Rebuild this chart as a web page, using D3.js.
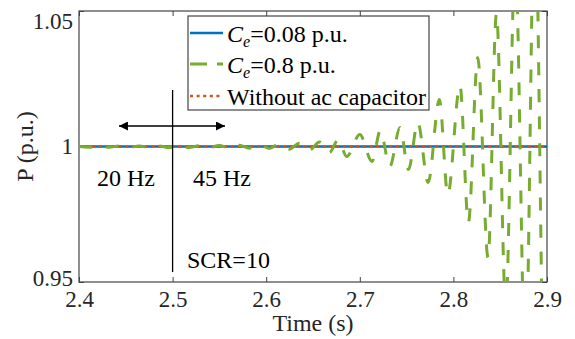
<!DOCTYPE html>
<html>
<head>
<meta charset="utf-8">
<script src="https://cdn.jsdelivr.net/npm/d3@7"></script>
<style>
  body { margin: 0; background: #fff; }
  svg { display: block; font-family: 'Liberation Serif', 'Times New Roman', serif; }
</style>
</head>
<body>
<svg id="chart"></svg>
<script>
const width = 575, height = 339;

// axis ticks
const xTicks = [2.4, 2.5, 2.6, 2.7, 2.8, 2.9];
const yTicks = [0.95, 1, 1.05];

// Ce = 0.08 p.u. and no ac capacitor: both stay flat at 1 p.u.
const timeFlat = [2.4, 2.9];
const pCe008 = [1, 1];
const pNoCap = [1, 1];

// Ce = 0.8 p.u.: growing oscillation, extrema
const timeCe08 = [
  2.400, 2.4107, 2.4214, 2.4321, 2.4428, 2.4535, 2.4642, 2.4749, 2.4856, 2.4963,
  2.5070, 2.5177, 2.5284, 2.5391, 2.5498, 2.5605, 2.5712, 2.5819, 2.5926, 2.6033,
  2.6140, 2.6247, 2.6354, 2.6461, 2.6568, 2.6675, 2.677, 2.686, 2.700, 2.713,
  2.722, 2.732, 2.743, 2.752, 2.762, 2.773, 2.785, 2.794, 2.807, 2.816,
  2.826, 2.837, 2.846, 2.856, 2.866, 2.877, 2.887, 2.898, 2.900
];
const pCe08 = [
  1.0000, 0.9997, 1.0002, 0.9997, 1.0002, 0.9997, 1.0002, 0.9997, 1.0002, 0.9996,
  1.0002, 0.9996, 1.0003, 0.9996, 1.0004, 0.9995, 1.0005, 0.9994, 1.0007, 0.9993,
  1.0009, 0.9990, 1.0012, 0.9986, 1.0017, 0.9978, 1.0025, 0.9963, 1.0044, 0.9945,
  1.0059, 0.9926, 1.0070, 0.9915, 1.0089, 0.9867, 1.0173, 0.9823, 1.0225, 0.9720,
  1.0328, 0.9590, 1.0490, 0.9410, 1.0700, 0.9190, 1.0920, 0.8930, 0.8950
];

const legendLabels = ['=0.08 p.u.', '=0.8 p.u.', 'Without ac capacitor'];

const colors = { blue: '#0072BD', green: '#77AC30', orange: '#D95319' };

const plot = { left: 79, right: 547, top: 11, bottom: 282 };

const svg = d3.select('#chart').attr('width', width).attr('height', height);

const x = d3.scaleLinear().domain([2.4, 2.9]).range([plot.left, plot.right]);
const y = d3.scaleLinear().domain([0.95, 1.05]).range([plot.bottom, plot.top]);

svg.append('defs').append('clipPath').attr('id', 'clip')
  .append('rect')
  .attr('x', plot.left).attr('y', plot.top)
  .attr('width', plot.right - plot.left).attr('height', plot.bottom - plot.top);

// axes (ticks point inward, like matlab)
const axisColor = '#444';
const tickFont = 23;

const gx = svg.append('g').attr('transform', `translate(0,${plot.bottom})`)
  .call(d3.axisBottom(x).tickValues(xTicks).tickFormat(d3.format('.1f')).tickSizeInner(-5).tickSizeOuter(0).tickPadding(12));
const gxTop = svg.append('g').attr('transform', `translate(0,${plot.top})`)
  .call(d3.axisTop(x).tickValues(xTicks).tickFormat('').tickSizeInner(-5).tickSizeOuter(0));
const gy = svg.append('g').attr('transform', `translate(${plot.left},0)`)
  .call(d3.axisLeft(y).tickValues(yTicks).tickFormat(d => d === 1 ? '1' : d3.format('.2f')(d)).tickSizeInner(-5).tickSizeOuter(0).tickPadding(6));
const gyRight = svg.append('g').attr('transform', `translate(${plot.right},0)`)
  .call(d3.axisRight(y).tickValues(yTicks).tickFormat('').tickSizeInner(-5).tickSizeOuter(0));

[gx, gxTop, gy, gyRight].forEach(g => {
  g.attr('font-family', null);
  g.select('.domain').remove();
  g.selectAll('.tick line').attr('stroke', axisColor);
});

gx.selectAll('.tick text')
  .attr('font-size', tickFont).attr('fill', '#262626')
  .attr('dy', 0).attr('y', 25);

// label offsets as in the picture
const yLabelDy = { 0.95: 3, 1: 7, 1.05: 17 };
gy.selectAll('.tick text')
  .attr('font-size', tickFont).attr('fill', '#262626')
  .attr('dy', d => yLabelDy[d]);

svg.append('rect')
  .attr('x', plot.left).attr('y', plot.top)
  .attr('width', plot.right - plot.left).attr('height', plot.bottom - plot.top)
  .attr('fill', 'none').attr('stroke', axisColor).attr('stroke-width', 1.2);

// axis titles
svg.append('text')
  .attr('x', (plot.left + plot.right) / 2).attr('y', 331)
  .attr('text-anchor', 'middle').attr('font-size', 24).attr('fill', '#262626')
  .text('Time (s)');

svg.append('text')
  .attr('transform', `translate(33,${(plot.top + plot.bottom) / 2}) rotate(-90)`)
  .attr('text-anchor', 'middle').attr('font-size', 24).attr('fill', '#262626')
  .text('P (p.u.)');

// data lines
const lines = svg.append('g').attr('clip-path', 'url(#clip)');

const flatLine = d3.line().x(d => x(d[0])).y(d => y(d[1]));
const waveLine = d3.line().x(d => x(d[0])).y(d => y(d[1])).curve(d3.curveMonotoneX);

lines.append('path')
  .datum(d3.zip(timeFlat, pCe008))
  .attr('d', flatLine)
  .attr('fill', 'none').attr('stroke', colors.blue).attr('stroke-width', 2.6);

lines.append('path')
  .datum(d3.zip(timeFlat, pNoCap))
  .attr('d', flatLine)
  .attr('fill', 'none').attr('stroke', colors.orange).attr('stroke-width', 2.6)
  .attr('stroke-dasharray', '3,3.6');

lines.append('path')
  .datum(d3.zip(timeCe08, pCe08))
  .attr('d', waveLine)
  .attr('fill', 'none').attr('stroke', colors.green).attr('stroke-width', 3)
  .attr('stroke-dasharray', '13,14');

// annotations: vertical marker at 2.5 s and double arrow
const defs = svg.select('defs');
['start', 'end'].forEach(k => {
  defs.append('marker')
    .attr('id', `arrow-${k}`)
    .attr('viewBox', '0 0 10 10')
    .attr('refX', 10).attr('refY', 5)
    .attr('markerWidth', 12).attr('markerHeight', 9)
    .attr('markerUnits', 'userSpaceOnUse')
    .attr('orient', k === 'start' ? 'auto-start-reverse' : 'auto')
    .append('path').attr('d', 'M0,0 L10,5 L0,10 Z').attr('fill', '#000');
});

svg.append('line')
  .attr('x1', x(2.5)).attr('x2', x(2.5))
  .attr('y1', 90).attr('y2', 272)
  .attr('stroke', '#000').attr('stroke-width', 1.3);

svg.append('line')
  .attr('x1', x(2.4427)).attr('x2', x(2.5560))
  .attr('y1', 126).attr('y2', 126)
  .attr('stroke', '#000').attr('stroke-width', 1.5)
  .attr('marker-start', 'url(#arrow-start)')
  .attr('marker-end', 'url(#arrow-end)');

const notes = [
  { text: '20 Hz', x: 97, y: 186 },
  { text: '45 Hz', x: 193, y: 186 },
  { text: 'SCR=10', x: 187, y: 268 }
];
svg.selectAll('.note').data(notes).enter()
  .append('text').attr('class', 'note')
  .attr('x', d => d.x).attr('y', d => d.y)
  .attr('font-size', 24).attr('fill', '#000')
  .text(d => d.text);

// legend
const legend = svg.append('g');
legend.append('rect')
  .attr('x', 188).attr('y', 16).attr('width', 241).attr('height', 94)
  .attr('fill', '#fff').attr('stroke', axisColor).attr('stroke-width', 1.2);

const legendStyles = [
  { color: colors.blue, dash: null, w: 2.6 },
  { color: colors.green, dash: '17,10', w: 3 },
  { color: colors.orange, dash: '3,3.6', w: 2.6 }
];
const rowY = [33, 64, 96];

legendLabels.forEach((label, i) => {
  const st = legendStyles[i];
  legend.append('line')
    .attr('x1', 190).attr('x2', 223)
    .attr('y1', rowY[i]).attr('y2', rowY[i])
    .attr('stroke', st.color).attr('stroke-width', st.w)
    .attr('stroke-dasharray', st.dash);

  const t = legend.append('text')
    .attr('x', 227).attr('y', rowY[i] + 9)
    .attr('font-size', 24).attr('fill', '#000');
  if (i < 2) {
    t.append('tspan').attr('font-style', 'italic').text('C');
    t.append('tspan').attr('font-style', 'italic').attr('font-size', 16).attr('dy', 5).text('e');
    t.append('tspan').attr('dy', -5).text(label);
  } else {
    t.text(label);
  }
});
</script>
</body>
</html>
